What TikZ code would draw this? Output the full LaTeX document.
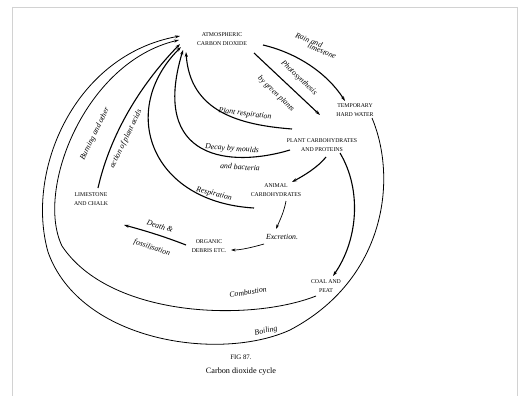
\documentclass[tikz,border=0pt]{standalone}
\usepackage{fontspec}
\setmainfont{Liberation Serif}
\usetikzlibrary{arrows.meta}
\begin{document}
\begin{tikzpicture}[x=1pt,y=-1pt,
  caps/.style={font=\fontsize{5.8}{8.6}\selectfont, align=center, inner sep=1pt},
  lab/.style={font=\fontsize{7.8}{8}\itshape, inner sep=0.5pt},
  flow/.style={line width=1.1pt, -{Stealth[length=5pt,width=3.2pt]}},
  outer flow/.style={line width=0.8pt, -{Stealth[length=5pt,width=3pt]}},
  thin flow/.style={line width=0.7pt, -{Stealth[length=4.5pt,width=2.8pt]}}]
\useasboundingbox (0,0) rectangle (529,396);
\draw[gray!35, line width=0.6pt] (12,7) -- (517,7);
\draw[gray!35, line width=0.6pt] (12,7) -- (12,396);
\draw[gray!35, line width=0.6pt] (517,7) -- (517,396);

% nodes
\node[caps] (co2) at (222,39) {ATMOSPHERIC\\CARBON DIOXIDE};
\node[caps] (thw) at (355,110) {TEMPORARY\\HARD WATER};
\node[caps] (plant) at (322,145) {PLANT CARBOHYDRATES\\AND PROTEINS};
\node[caps] (animal) at (276,190) {ANIMAL\\CARBOHYDRATES};
\node[caps] (organic) at (209,246) {ORGANIC\\DEBRIS ETC.};
\node[caps] (lime) at (91,199) {LIMESTONE\\AND CHALK};
\node[caps] (coal) at (326,286) {COAL AND\\PEAT};

\coordinate (c1) at (180,36);
\coordinate (c2) at (179,40);
\coordinate (c3) at (180,44);
\coordinate (c4) at (181,47);
\coordinate (c5) at (183,50);
\coordinate (c6) at (186,52);

% Rain and limestone
\draw[flow] (263,45) .. controls (297,53) and (327,73) .. (345,101);
\node[lab, rotate=-22] at (309,40) {Rain and};
\node[lab, rotate=-22] at (322,51) {limestone};

% Photosynthesis
\draw[flow] (254,53) -- (320,115);
\node[lab, rotate=-44] at (299,78) {Photosynthesis};
\node[lab, rotate=-44] at (276,94) {by green plants};

% Plant respiration
\draw[flow] (292,129) .. controls (240,125) and (190,112) .. (c6);
\node[lab, rotate=-7] at (245,114) {Plant respiration};

% Decay
\draw[flow] (290,150) .. controls (230,168) and (150,160) .. (c5);
\node[lab, rotate=-4] at (232,149) {Decay by moulds};
\node[lab, rotate=-4] at (240,167) {and bacteria};

% plant -> animal
\draw[flow] (326,157) .. controls (318,167) and (305,175) .. (292,182);

% Respiration
\draw[flow] (254,208) .. controls (150,202) and (118,110) .. (c4);
\node[lab, rotate=-14] at (214,194) {Respiration};

% Excretion
\draw[thin flow] (286,201) .. controls (284,212) and (280,220) .. (276,229);
\node[lab] (exc) at (282,237) {Excretion.};
\draw[thin flow] (264,244) .. controls (250,248) and (240,250) .. (231,250);

% Death & fossilisation
\draw[flow] (186,245) .. controls (168,238) and (150,232) .. (124,225);
\node[lab, rotate=-18] at (160,226) {Death \&};
\node[lab, rotate=-18] at (152,248) {fossilisation};

% Burning (limestone -> CO2)
\draw[flow] (98,188) .. controls (110,135) and (140,85) .. (c3);
\node[lab, rotate=64] at (95,134) {Burning and other};
\node[lab, rotate=64] at (126,139) {action of plant acids};

% plant -> coal
\draw[flow] (340,153) .. controls (362,190) and (358,240) .. (333,276);

% Combustion
\draw[outer flow] (316,296) .. controls (250,322) and (110,318) .. (62,246)
  .. controls (35,190) and (85,62) .. (c2);
\node[lab, rotate=9] at (248,292) {Combustion};

% Boiling
\draw[outer flow] (372,118) .. controls (398,180) and (385,280) .. (290,330)
  .. controls (220,362) and (80,342) .. (48,252)
  .. controls (25,170) and (75,55) .. (c1);
\node[lab, rotate=13] at (266,331) {Boiling};

% caption
\node[font=\fontsize{6.8}{8}\selectfont] at (241,357) {FIG 87.};
\node[font=\fontsize{8.2}{9}\selectfont] at (241,372) {Carbon dioxide cycle};
\end{tikzpicture}
\end{document}
